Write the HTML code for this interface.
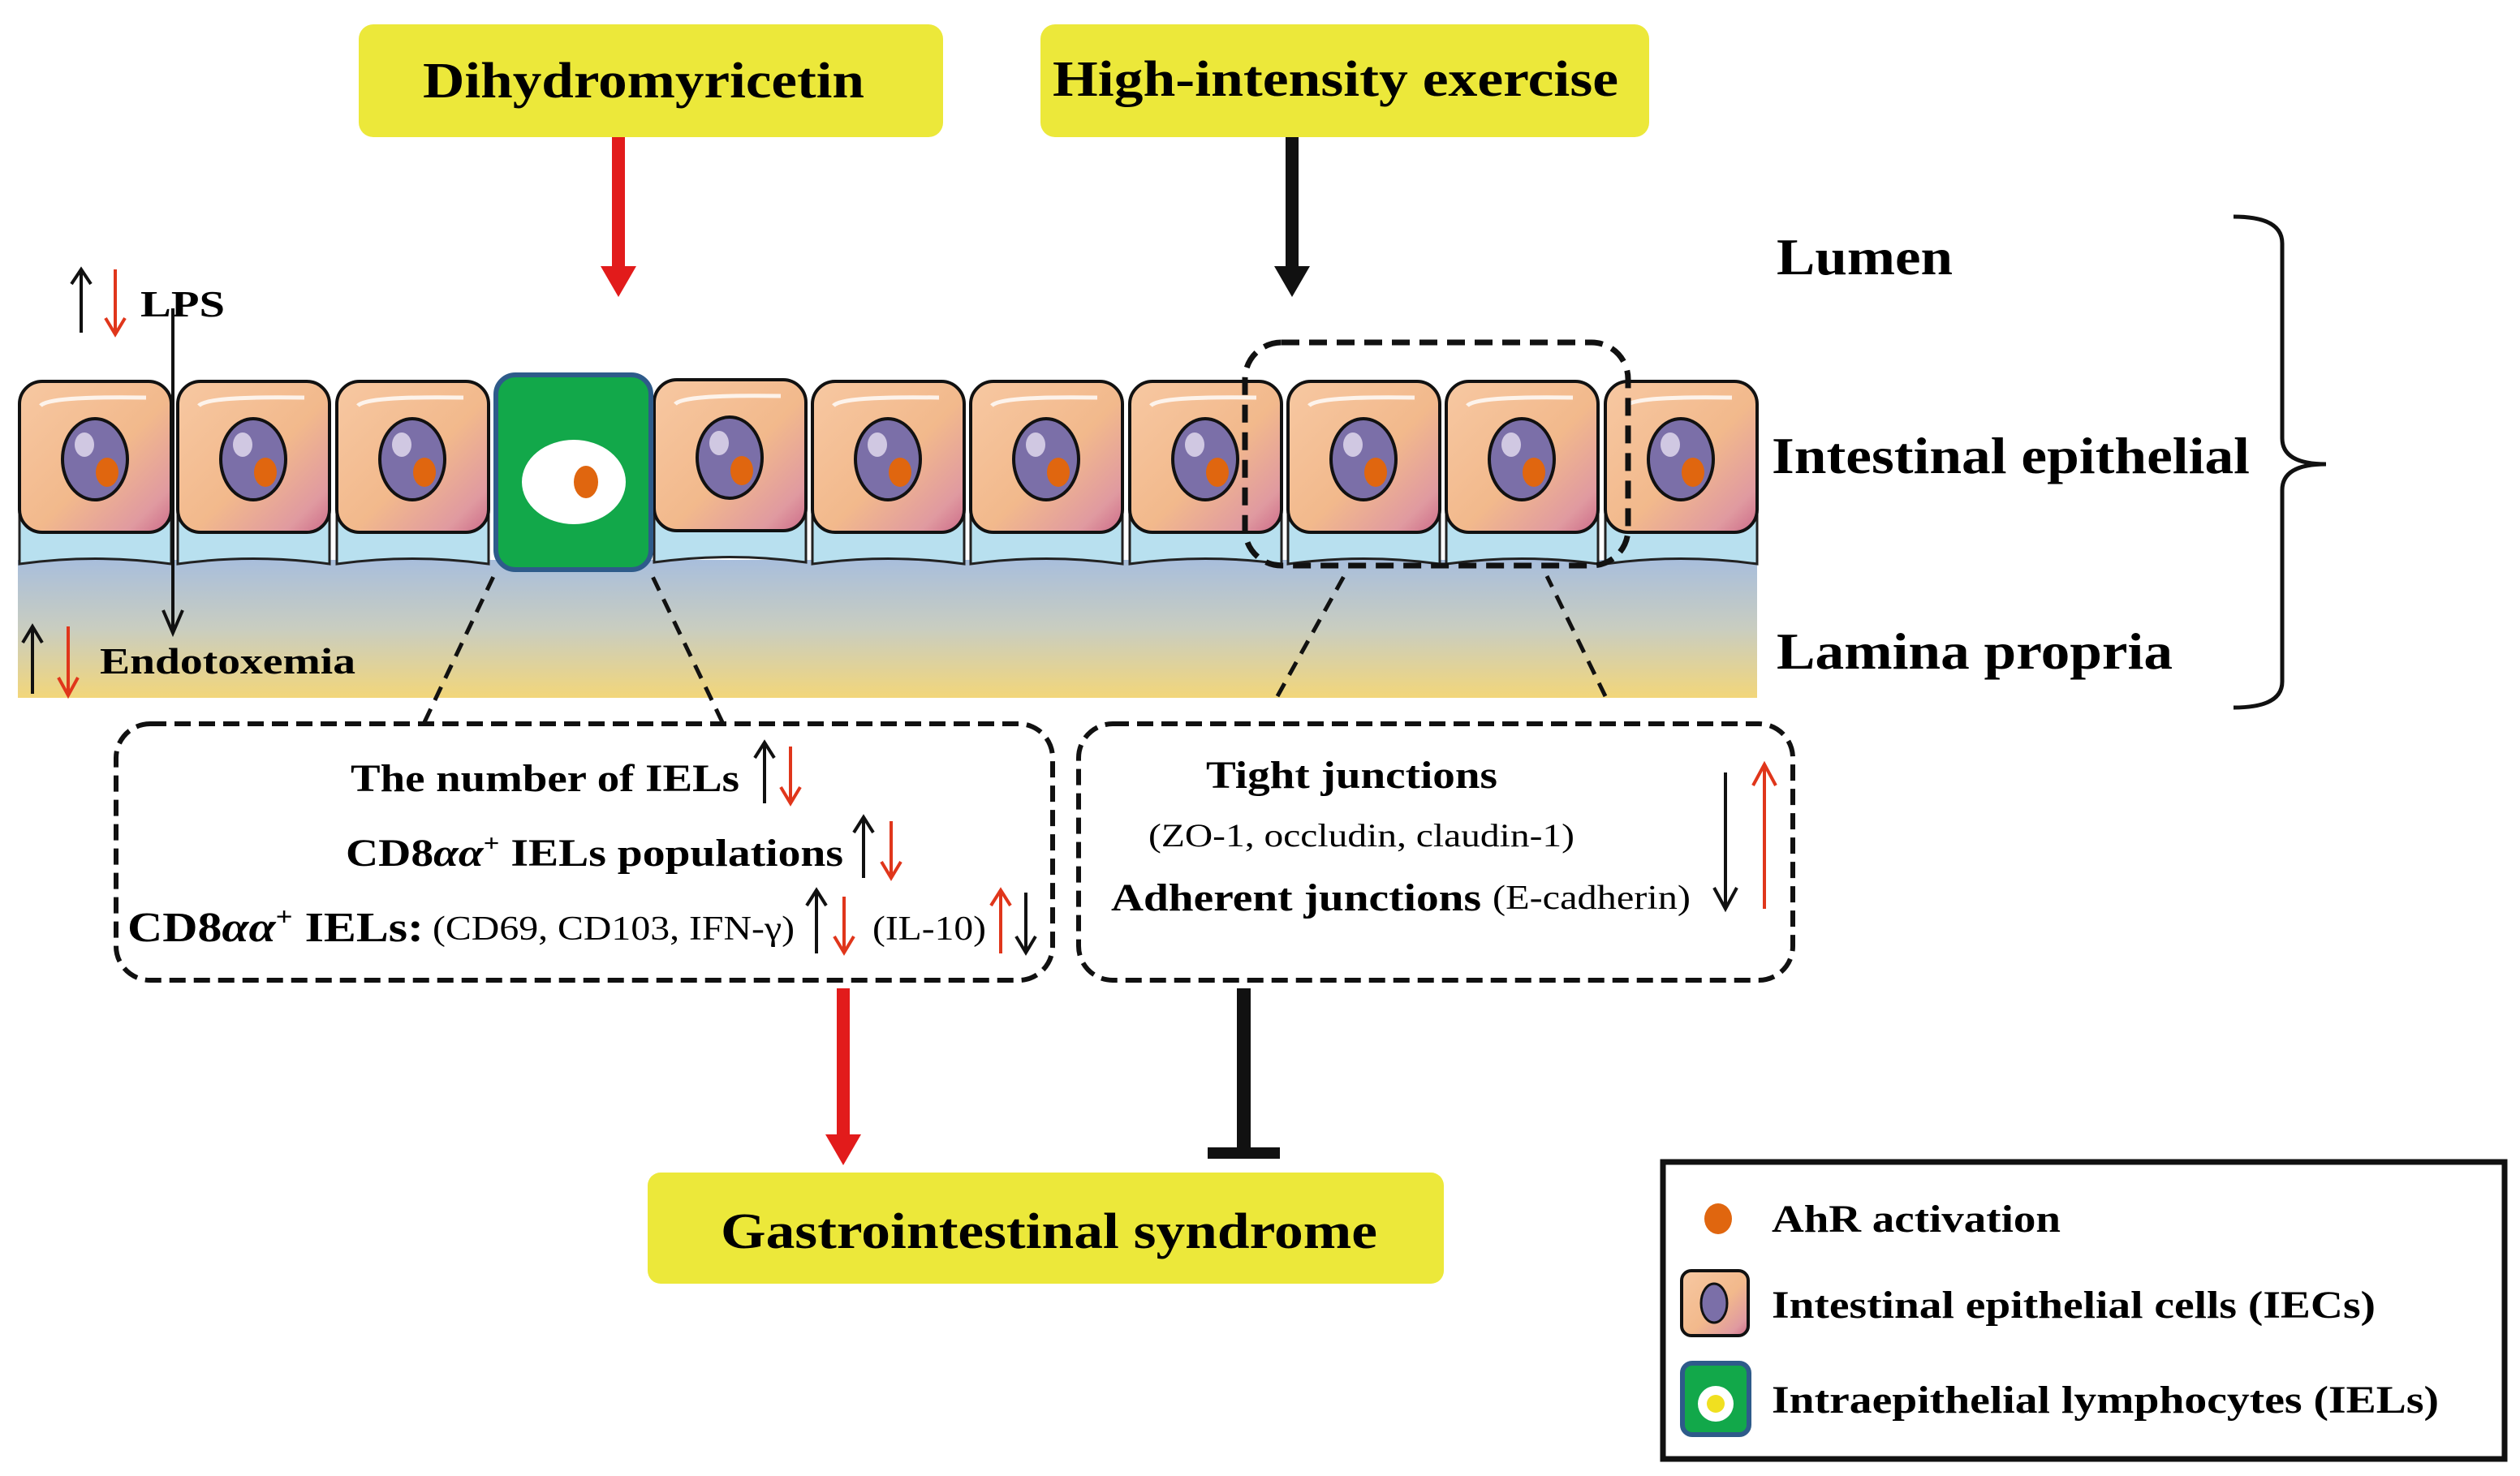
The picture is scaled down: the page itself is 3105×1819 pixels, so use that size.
<!DOCTYPE html>
<html><head><meta charset="utf-8"><style>
html,body{margin:0;padding:0;background:#fff;}
svg{display:block;}
text{font-family:"Liberation Serif",serif;}
</style></head><body>
<svg width="3105" height="1819" viewBox="0 0 3105 1819" xmlns="http://www.w3.org/2000/svg">
<defs>
<linearGradient id="lam" x1="0" y1="0" x2="0" y2="1">
<stop offset="0" stop-color="#a8bedc"/><stop offset="0.5" stop-color="#c9cdc0"/><stop offset="1" stop-color="#f2d67a"/></linearGradient>
<linearGradient id="cellg" x1="0" y1="0" x2="1" y2="1">
<stop offset="0" stop-color="#f7c8a2"/><stop offset="0.55" stop-color="#f2b98c"/><stop offset="0.85" stop-color="#e09aa0"/><stop offset="1" stop-color="#cc6a88"/></linearGradient>
<g id="cell">
<path d="M4 150 L191 150 L191 225 Q97 212 4 225 Z" fill="#b8e0ef" stroke="#222" stroke-width="3"/>
<rect x="4" y="0" width="187" height="186" rx="28" fill="url(#cellg)" stroke="#111" stroke-width="4"/>
<path d="M30 30 Q40 18 160 20" stroke="#fff" stroke-width="5" fill="none" opacity="0.8"/>
<ellipse cx="97" cy="96" rx="40" ry="50" fill="#7b6fa8" stroke="#111" stroke-width="4"/>
<ellipse cx="84" cy="78" rx="12" ry="15" fill="#d0c8e2"/>
<ellipse cx="112" cy="112" rx="14" ry="18" fill="#e0660f"/>
</g>
</defs>

<!-- top boxes -->
<rect x="442" y="30" width="720" height="139" rx="18" fill="#ece83a"/>
<text x="521" y="120" font-size="62" font-weight="bold" textLength="544" lengthAdjust="spacingAndGlyphs">Dihydromyricetin</text>
<rect x="1282" y="30" width="750" height="139" rx="18" fill="#ece83a"/>
<text x="1297" y="118" font-size="62" font-weight="bold" textLength="697" lengthAdjust="spacingAndGlyphs">High-intensity exercise</text>

<!-- arrows from top -->
<rect x="754" y="169" width="16" height="160" fill="#e21b1b"/>
<polygon points="740,328 784,328 762,366" fill="#e21b1b"/>
<rect x="1584" y="169" width="16" height="160" fill="#111"/>
<polygon points="1570,328 1614,328 1592,366" fill="#111"/>

<!-- side labels -->
<text x="2189" y="338" font-size="64" font-weight="bold" textLength="217" lengthAdjust="spacingAndGlyphs">Lumen</text>
<text x="2183" y="583" font-size="64" font-weight="bold" textLength="589" lengthAdjust="spacingAndGlyphs">Intestinal epithelial</text>
<text x="2189" y="824" font-size="64" font-weight="bold" textLength="488" lengthAdjust="spacingAndGlyphs">Lamina propria</text>
<path d="M2752 267 Q2812 267 2812 300 L2812 540 Q2812 572 2866 572 Q2812 572 2812 604 L2812 840 Q2812 872 2752 872" fill="none" stroke="#111" stroke-width="5"/>

<!-- lamina -->
<rect x="22" y="690" width="2143" height="170" fill="url(#lam)"/>

<!-- cells -->
<use href="#cell" x="20" y="470"/>
<use href="#cell" x="215" y="470"/>
<use href="#cell" x="411" y="470"/>
<use href="#cell" x="802" y="468"/>
<use href="#cell" x="997" y="470"/>
<use href="#cell" x="1192" y="470"/>
<use href="#cell" x="1388" y="470"/>
<use href="#cell" x="1583" y="470"/>
<use href="#cell" x="1778" y="470"/>
<use href="#cell" x="1974" y="470"/>
<!-- IEL -->
<rect x="611" y="462" width="191" height="240" rx="24" fill="#12a84a" stroke="#2e5b8a" stroke-width="6"/>
<ellipse cx="707" cy="594" rx="64" ry="52" fill="#fff"/>
<ellipse cx="722" cy="594" rx="15" ry="20" fill="#e0660f"/>

<!-- LPS -->
<path d="M100 410 L100 335 M88 350 L100 332 L112 350" stroke="#111" stroke-width="4" fill="none"/>
<path d="M142 332 L142 410 M130 392 L142 412 L154 392" stroke="#e0361b" stroke-width="4" fill="none"/>
<text x="173" y="390" font-size="46" font-weight="bold" textLength="104" lengthAdjust="spacingAndGlyphs">LPS</text>
<path d="M213 380 L213 778 M201 752 L213 780 L225 752" stroke="#111" stroke-width="4" fill="none"/>
<!-- Endotoxemia -->
<path d="M40 855 L40 775 M28 792 L40 772 L52 792" stroke="#111" stroke-width="4" fill="none"/>
<path d="M84 772 L84 855 M72 835 L84 857 L96 835" stroke="#e0361b" stroke-width="4" fill="none"/>
<text x="123" y="830" font-size="46" font-weight="bold" textLength="315" lengthAdjust="spacingAndGlyphs">Endotoxemia</text>

<!-- dashed selection -->
<rect x="1534" y="422" width="472" height="275" rx="45" fill="none" stroke="#111" stroke-width="7" stroke-dasharray="22,12"/>
<g stroke="#111" stroke-width="5" stroke-dasharray="18,12" fill="none">
<line x1="523" y1="890" x2="612" y2="702"/>
<line x1="890" y1="890" x2="800" y2="702"/>
<line x1="1574" y1="858" x2="1656" y2="710"/>
<line x1="1978" y1="858" x2="1906" y2="710"/>
</g>

<!-- left dashed box -->
<rect x="143" y="892" width="1154" height="316" rx="42" fill="none" stroke="#111" stroke-width="6" stroke-dasharray="20,10"/>
<text x="432" y="975" font-size="48" font-weight="bold" textLength="479" lengthAdjust="spacingAndGlyphs">The number of IELs</text>
<path d="M942 990 L942 918 M930 934 L942 915 L954 934" stroke="#111" stroke-width="4" fill="none"/>
<path d="M974 920 L974 988 M962 970 L974 990 L986 970" stroke="#e0361b" stroke-width="4" fill="none"/>
<text x="426" y="1067" font-size="48" font-weight="bold" textLength="613" lengthAdjust="spacingAndGlyphs">CD8<tspan font-style="italic">αα</tspan><tspan font-size="30" dy="-18">+</tspan><tspan dy="18"> IELs populations</tspan></text>
<path d="M1064 1082 L1064 1010 M1052 1026 L1064 1007 L1076 1026" stroke="#111" stroke-width="4" fill="none"/>
<path d="M1098 1012 L1098 1080 M1086 1062 L1098 1082 L1110 1062" stroke="#e0361b" stroke-width="4" fill="none"/>
<text x="157" y="1160" font-size="52" font-weight="bold" textLength="365" lengthAdjust="spacingAndGlyphs">CD8<tspan font-style="italic">αα</tspan><tspan font-size="32" dy="-20">+</tspan><tspan dy="20"> IELs:</tspan></text>
<text x="533" y="1158" font-size="42" textLength="446" lengthAdjust="spacingAndGlyphs">(CD69, CD103, IFN-γ)</text>
<path d="M1006 1175 L1006 1100 M994 1116 L1006 1097 L1018 1116" stroke="#111" stroke-width="4" fill="none"/>
<path d="M1040 1105 L1040 1172 M1028 1154 L1040 1174 L1052 1154" stroke="#e0361b" stroke-width="4" fill="none"/>
<text x="1075" y="1158" font-size="42" textLength="140" lengthAdjust="spacingAndGlyphs">(IL-10)</text>
<path d="M1233 1175 L1233 1100 M1221 1116 L1233 1097 L1245 1116" stroke="#e0361b" stroke-width="4" fill="none"/>
<path d="M1264 1100 L1264 1172 M1252 1154 L1264 1174 L1276 1154" stroke="#111" stroke-width="4" fill="none"/>

<!-- right dashed box -->
<rect x="1329" y="892" width="880" height="316" rx="42" fill="none" stroke="#111" stroke-width="6" stroke-dasharray="20,10"/>
<text x="1486" y="971" font-size="48" font-weight="bold" textLength="359" lengthAdjust="spacingAndGlyphs">Tight junctions</text>
<text x="1415" y="1043" font-size="40" textLength="525" lengthAdjust="spacingAndGlyphs">(ZO-1, occludin, claudin-1)</text>
<text x="1369" y="1122" font-size="48" font-weight="bold" textLength="456" lengthAdjust="spacingAndGlyphs">Adherent junctions</text>
<text x="1839" y="1120" font-size="42" textLength="244" lengthAdjust="spacingAndGlyphs">(E-cadherin)</text>
<path d="M2126 952 L2126 1118 M2112 1094 L2126 1120 L2140 1094" stroke="#111" stroke-width="4" fill="none"/>
<path d="M2174 1120 L2174 944 M2160 968 L2174 942 L2188 968" stroke="#e0361b" stroke-width="4" fill="none"/>

<!-- bottom connectors -->
<rect x="1031" y="1218" width="16" height="182" fill="#e21b1b"/>
<polygon points="1017,1398 1061,1398 1039,1436" fill="#e21b1b"/>
<rect x="1524" y="1218" width="17" height="198" fill="#111"/>
<rect x="1488" y="1414" width="89" height="14" fill="#111"/>

<rect x="798" y="1445" width="981" height="137" rx="16" fill="#ece83a"/>
<text x="888" y="1538" font-size="62" font-weight="bold" textLength="809" lengthAdjust="spacingAndGlyphs">Gastrointestinal syndrome</text>

<!-- legend -->
<rect x="2049" y="1432" width="1037" height="366" fill="#fff" stroke="#111" stroke-width="7"/>
<ellipse cx="2117" cy="1502" rx="17" ry="19" fill="#e0660f"/>
<text x="2183" y="1518" font-size="48" font-weight="bold" textLength="356" lengthAdjust="spacingAndGlyphs">AhR activation</text>
<rect x="2072" y="1566" width="82" height="80" rx="12" fill="url(#cellg)" stroke="#111" stroke-width="4"/>
<ellipse cx="2112" cy="1606" rx="16" ry="24" fill="#7b6fa8" stroke="#111" stroke-width="3"/>
<text x="2183" y="1624" font-size="48" font-weight="bold" textLength="744" lengthAdjust="spacingAndGlyphs">Intestinal epithelial cells (IECs)</text>
<rect x="2073" y="1680" width="82" height="88" rx="12" fill="#12a84a" stroke="#2e5b8a" stroke-width="6"/>
<circle cx="2114" cy="1730" r="22" fill="#fff"/>
<circle cx="2114" cy="1730" r="11" fill="#f0e020"/>
<text x="2183" y="1741" font-size="48" font-weight="bold" textLength="822" lengthAdjust="spacingAndGlyphs">Intraepithelial lymphocytes (IELs)</text>
</svg>
</body></html>
